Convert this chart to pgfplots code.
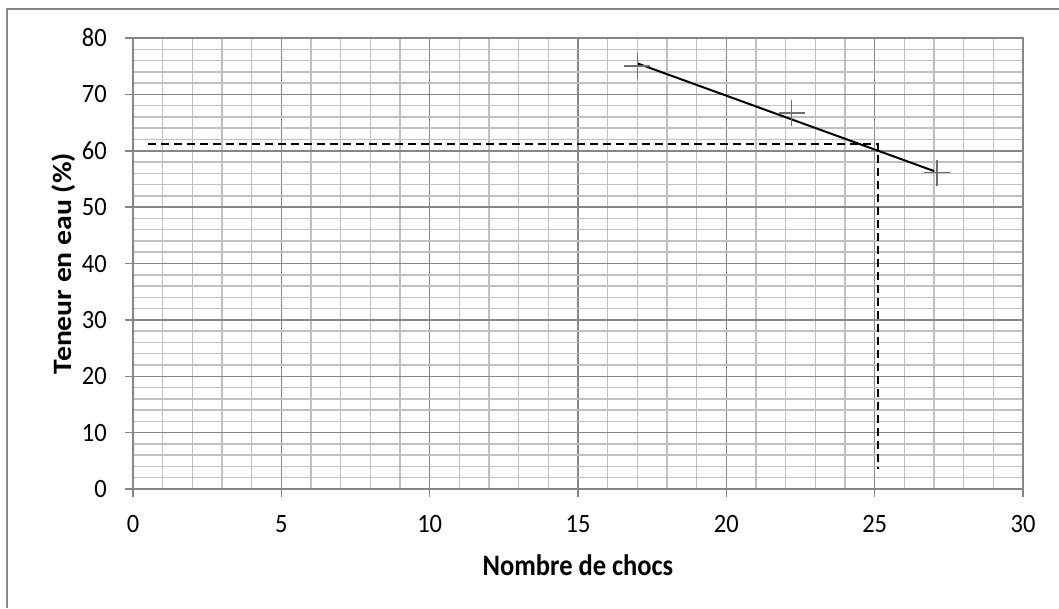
\documentclass[border=0pt]{standalone}
\usepackage{pgfplots}
\pgfplotsset{compat=1.18}
\usepackage{fontspec}
\setmainfont{Carlito}
\definecolor{majgrid}{RGB}{134,134,134}
\definecolor{mingrid}{RGB}{192,192,192}
\definecolor{markgray}{RGB}{110,110,110}
\begin{document}
\begin{tikzpicture}[x=1pt,y=1pt]
\useasboundingbox (-133,-119) rectangle (926,489);
% chart frame (only top and left edges visible)
\draw[majgrid, line width=2pt] (-126,-119) -- (-126,480) -- (926,480);
\begin{axis}[
    at={(0,0)}, anchor=south west,
    scale only axis, width=890pt, height=451pt,
    xmin=0, xmax=30, ymin=0, ymax=80,
    xtick={0,5,...,30}, ytick={0,10,...,80},
    minor x tick num=4, minor y tick num=4,
    grid=both,
    major grid style={majgrid, line width=1.5pt},
    minor grid style={mingrid, line width=1.5pt},
    axis line style={majgrid, line width=1.5pt},
    tick style={majgrid, line width=1.5pt},
    tick align=outside, tick pos=left,
    major tick length=8pt, minor tick length=0pt,
    /pgf/number format/assume math mode=true,
    tick label style={font=\fontsize{24.5}{24.5}\selectfont, inner sep=0pt},
    xticklabel={\scalebox{1}[1.08]{\pgfmathprintnumber{\tick}}},
    yticklabel={\scalebox{1}[1.08]{\pgfmathprintnumber{\tick}}},
    xticklabel style={anchor=center, yshift=-27pt},
    yticklabel style={anchor=east, xshift=-18pt},
    xlabel={\scalebox{1}[1.12]{\textbf{Nombre de chocs}}},
    ylabel={\scalebox{1.12}[1]{\textbf{Teneur en eau (\%)}}},
    every axis x label/.style={at={(axis description cs:0.5,-0.1685)}, anchor=center,
        font=\fontsize{26.5}{26.5}\selectfont},
    every axis y label/.style={at={(axis description cs:-0.0775,0.5)}, anchor=center,
        rotate=90, font=\fontsize{26.5}{26.5}\selectfont},
    clip=false,
  ]
% measured points
\addplot[only marks, mark=+, mark size=13pt, markgray, line width=1.5pt] coordinates {
  (17,75.0) (22.2,66.7) (27.1,56.1)};
% linear trend line
\addplot[black, line width=2pt] coordinates {(17,75.5) (27,56.4)};
% reading at 25 blows
\addplot[black, line width=2.2pt, dash pattern=on 8pt off 5pt] coordinates {
  (0.5,61.2) (25.1,61.2) (25.1,3.5)};
\end{axis}
\end{tikzpicture}
\end{document}
